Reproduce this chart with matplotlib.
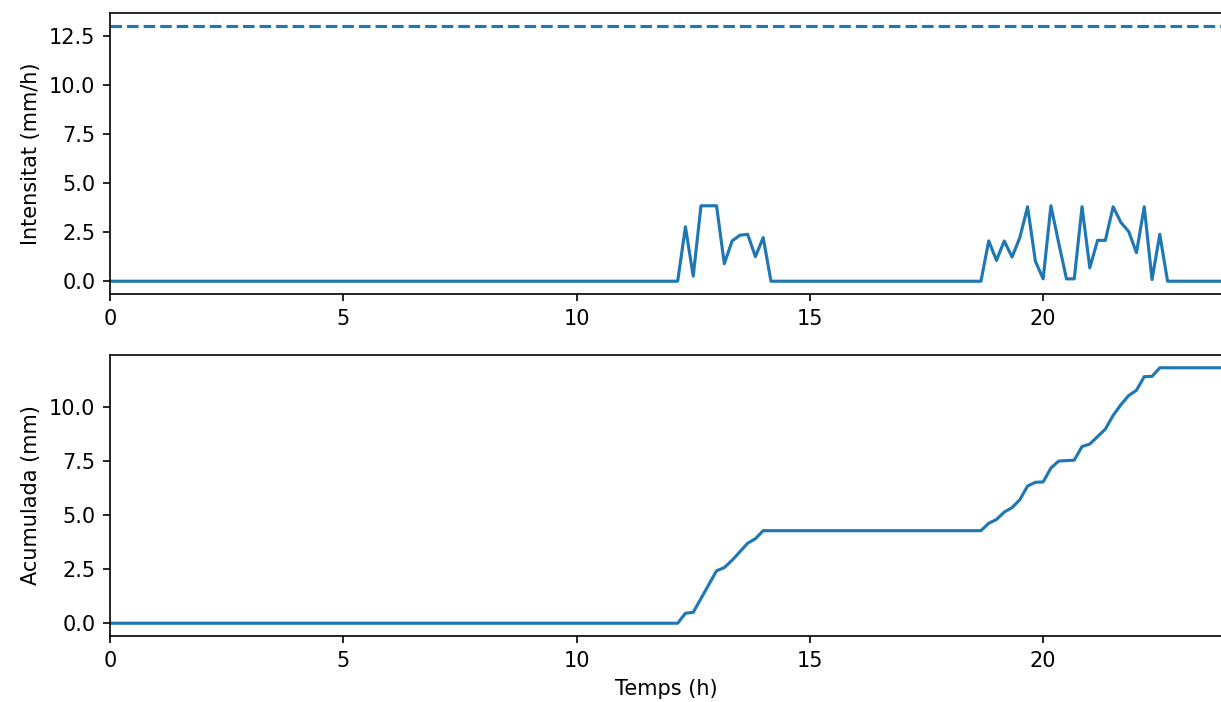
import numpy as np
import matplotlib
matplotlib.use("Agg")
import matplotlib.pyplot as plt

# 10-minute intensity series (mm/h), 144 steps covering 0..23:50 h
n_steps = 144
event1_start = 74  # 12:20
event1 = [2.77, 0.26, 3.84, 3.84, 3.84, 0.89, 2.05, 2.34, 2.39, 1.25, 2.22]
event2_start = 113  # 18:50
event2 = [2.05, 1.06, 2.05, 1.23, 2.22, 3.79, 1.02, 0.12, 3.84, 1.95, 0.12, 0.12,
          3.79, 0.68, 2.08, 2.08, 3.79, 2.99, 2.53, 1.45, 3.79, 0.08, 2.39]
threshold = 13.0

intensity = np.zeros(n_steps)
intensity[event1_start:event1_start + len(event1)] = event1
intensity[event2_start:event2_start + len(event2)] = event2
time_h = np.arange(n_steps) / 6.0
cumulative = np.cumsum(intensity) / 6.0

W, H = 1221, 702
fig = plt.figure(figsize=(W / 150, H / 150), dpi=150)
left = 110 / W
width = 1112 / W
ax1 = fig.add_axes([left, (H - 294) / H, width, 281 / H])
ax2 = fig.add_axes([left, (H - 636) / H, width, 281 / H])

ax1.plot(time_h, intensity, color="C0")
ax1.plot(time_h, np.full(n_steps, threshold), "--", color="C0")
ax1.set_ylabel("Intensitat (mm/h)")
ax1.set_xlim(0, time_h[-1])

ax2.plot(time_h, cumulative, color="C0")
ax2.set_ylabel("Acumulada (mm)")
ax2.set_xlabel("Temps (h)")
ax2.set_xlim(0, time_h[-1])

fig.savefig("out.png", dpi=150)
